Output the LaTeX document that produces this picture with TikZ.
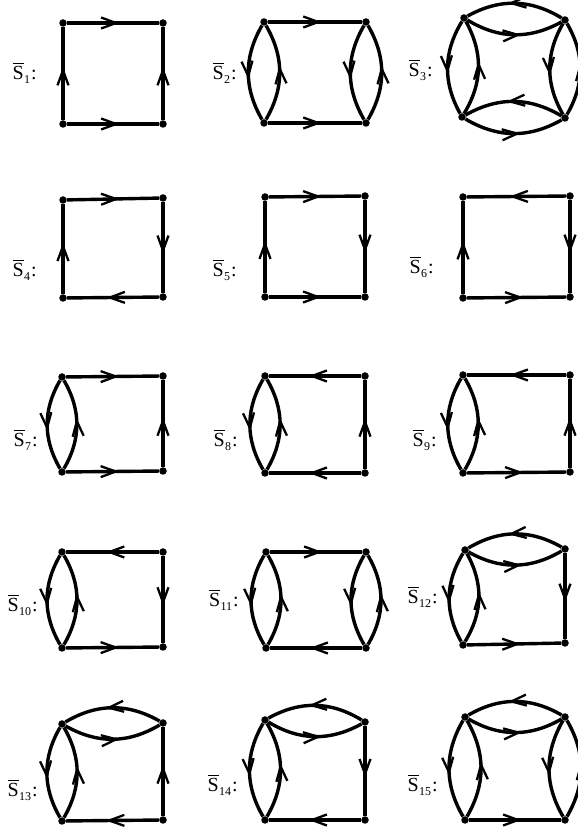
\documentclass[tikz,border=0pt]{standalone}
\usepackage{fontspec}
\setmainfont{Liberation Serif}
\usetikzlibrary{arrows.meta,decorations.markings}
\newcommand\slab[1]{\vbox{\hrule height 1.1pt\kern 2pt\hbox{S}}\kern0.4pt\raisebox{-4pt}{\fontsize{12}{12}\selectfont #1}\kern1pt:}
\newcommand\fourv[9]{%
  \node[vtx] (tl#1) at (#2,#3) {};
  \node[vtx] (tr#1) at (#4,#5) {};
  \node[vtx] (bl#1) at (#6,#7) {};
  \node[vtx] (br#1) at (#8,#9) {};}
\newcommand\leftlens[1]{\draw[edge] (tl#1) to[bend right=30] (bl#1); \draw[edge] (bl#1) to[bend right=30] (tl#1);}
\newcommand\rightlens[1]{\draw[edge] (tr#1) to[bend right=30] (br#1); \draw[edge] (br#1) to[bend right=30] (tr#1);}
\newcommand\toplens[1]{\draw[edge] (tr#1) to[bend right=30] (tl#1); \draw[edge] (tl#1) to[bend right=30] (tr#1);}
\newcommand\botlens[1]{\draw[edge] (br#1) to[bend right=30] (bl#1); \draw[edge] (bl#1) to[bend right=30] (br#1);}
\begin{document}
\begin{tikzpicture}[x=1pt,y=1pt,
  vtx/.style={circle,fill=black,inner sep=0pt,minimum size=7.5pt},
  edge/.style={line width=3.4pt,
    decoration={markings,mark=at position 0.57 with {\arrow{Straight Barb[length=15pt,width=11pt,line width=2.3pt]}}},
    postaction={decorate}},
  lab/.style={anchor=east,font=\fontsize{20}{20}\selectfont,inner sep=0pt}]
\useasboundingbox (0,0) rectangle (578,831);
\fill[white] (0,0) rectangle (578,831);
% vertices
\fourv{1}{63}{808}{163}{808}{63}{707}{163}{707}
\fourv{2}{264}{809}{366}{809}{264}{708}{366}{708}
\fourv{3}{464}{813}{565}{811}{462}{714}{565}{713}
\fourv{4}{63}{631}{163}{633}{63}{533}{163}{534}
\fourv{5}{265}{634}{365}{635}{265}{534}{365}{534}
\fourv{6}{463}{634}{570}{635}{463}{533}{570}{534}
\fourv{7}{62}{454}{163}{455}{62}{359}{163}{360}
\fourv{8}{265}{455}{365}{455}{265}{358}{365}{358}
\fourv{9}{463}{456}{570}{456}{463}{358}{570}{359}
\fourv{10}{62}{279}{163}{279}{62}{183}{163}{184}
\fourv{11}{266}{279}{366}{279}{266}{183}{366}{183}
\fourv{12}{465}{281}{565}{282}{463}{186}{565}{188}
\fourv{13}{62}{107}{163}{108}{62}{10}{163}{11}
\fourv{14}{265}{111}{365}{109}{265}{11}{365}{11}
\fourv{15}{465}{114}{565}{114}{465}{11}{565}{11}
% labels
\node[lab] (l1) at (37,758) {\slab{1}};
\node[lab] (l2) at (237,758) {\slab{2}};
\node[lab] (l3) at (433,761) {\slab{3}};
\node[lab] (l4) at (37,561) {\slab{4}};
\node[lab] (l5) at (237,561) {\slab{5}};
\node[lab] (l6) at (434,564) {\slab{6}};
\node[lab] (l7) at (38,391) {\slab{7}};
\node[lab] (l8) at (238,391) {\slab{8}};
\node[lab] (l9) at (437,391) {\slab{9}};
\node[lab] (l10) at (38,226) {\slab{10}};
\node[lab] (l11) at (239,231) {\slab{11}};
\node[lab] (l12) at (438,234) {\slab{12}};
\node[lab] (l13) at (38,41) {\slab{13}};
\node[lab] (l14) at (238,46) {\slab{14}};
\node[lab] (l15) at (438,46) {\slab{15}};
% S1
\draw[edge] (tl1) -- (tr1); \draw[edge] (bl1) -- (br1);
\draw[edge] (bl1) -- (tl1); \draw[edge] (br1) -- (tr1);
% S2
\draw[edge] (tl2) -- (tr2); \draw[edge] (bl2) -- (br2);
\leftlens{2} \rightlens{2}
% S3
\toplens{3} \botlens{3} \leftlens{3} \rightlens{3}
% S4
\draw[edge] (tl4) -- (tr4); \draw[edge] (tr4) -- (br4);
\draw[edge] (br4) -- (bl4); \draw[edge] (bl4) -- (tl4);
% S5
\draw[edge] (tl5) -- (tr5); \draw[edge] (tr5) -- (br5);
\draw[edge] (bl5) -- (br5); \draw[edge] (bl5) -- (tl5);
% S6
\draw[edge] (tr6) -- (tl6); \draw[edge] (tr6) -- (br6);
\draw[edge] (bl6) -- (br6); \draw[edge] (bl6) -- (tl6);
% S7
\draw[edge] (tl7) -- (tr7); \draw[edge] (bl7) -- (br7);
\draw[edge] (br7) -- (tr7); \leftlens{7}
% S8
\draw[edge] (tr8) -- (tl8); \draw[edge] (br8) -- (bl8);
\draw[edge] (br8) -- (tr8); \leftlens{8}
% S9
\draw[edge] (tr9) -- (tl9); \draw[edge] (bl9) -- (br9);
\draw[edge] (br9) -- (tr9); \leftlens{9}
% S10
\draw[edge] (tr10) -- (tl10); \draw[edge] (bl10) -- (br10);
\draw[edge] (tr10) -- (br10); \leftlens{10}
% S11
\draw[edge] (tl11) -- (tr11); \draw[edge] (br11) -- (bl11);
\leftlens{11} \rightlens{11}
% S12
\toplens{12} \draw[edge] (tr12) -- (br12);
\draw[edge] (bl12) -- (br12); \leftlens{12}
% S13
\toplens{13} \draw[edge] (br13) -- (tr13);
\draw[edge] (br13) -- (bl13); \leftlens{13}
% S14
\toplens{14} \draw[edge] (tr14) -- (br14);
\draw[edge] (br14) -- (bl14); \leftlens{14}
% S15
\toplens{15} \draw[edge] (bl15) -- (br15);
\leftlens{15} \rightlens{15}
\end{tikzpicture}
\end{document}
